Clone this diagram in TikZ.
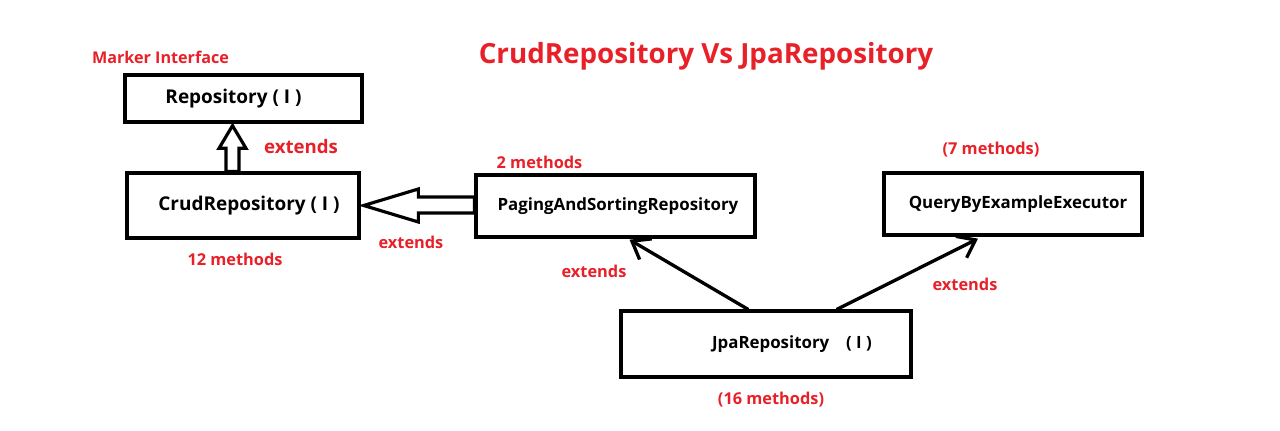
\documentclass[tikz,border=0pt]{standalone}
\usepackage{fontspec}
\setmainfont{Open Sans}
\usetikzlibrary{arrows.meta,calc}
\definecolor{note}{RGB}{232,32,40}
\tikzset{
  iface/.style={draw=black, line width=1.9pt, fill=white, align=center,
    font=\bfseries\fontsize{9.6}{11}\selectfont, inner sep=2pt},
  bigface/.style={iface, font=\bfseries\fontsize{10.8}{12}\selectfont},
  hollow/.style={draw=black, line width=1.8pt, fill=white, line join=miter},
  ext/.style={draw=black, line width=1.9pt, line cap=round,
    -{Straight Barb[length=0.32cm, width=0.48cm, line width=1.9pt]}},
  redlbl/.style={text=note, font=\bfseries\fontsize{9.3}{11}\selectfont, inner sep=0pt}
}
\begin{document}
\begin{tikzpicture}[x=0.02cm, y=-0.02cm]
  \useasboundingbox[fill=white] (0,0) rectangle (1280,431);

  % interfaces
  \node[bigface, minimum width=4.74cm, minimum height=0.94cm] (repo) at (243.5,98.5)
    {Repository ( I )\hspace*{0.4cm}};
  \node[bigface, minimum width=4.64cm, minimum height=1.30cm] (crud) at (243,205.5)
    {\hspace*{0.24cm}CrudRepository ( I )};
  \node[iface, minimum width=5.58cm, minimum height=1.24cm] (paging) at (615.5,206)
    {\hspace*{0.1cm}PagingAndSortingRepository};
  \node[iface, minimum width=5.16cm, minimum height=1.24cm] (qbe) at (1013,204)
    {\hspace*{0.2cm}QueryByExampleExecutor};
  \node[iface, minimum width=5.80cm, minimum height=1.32cm] (jpa) at (766,344)
    {\hspace*{1.04cm}JpaRepository\quad( I )};

  % block arrows
  \draw[hollow] ($(crud.north)+(-17,0)$) -- ++(0,-23) -- ++(-7,0)
    -- ($(repo.south)+(-11,2)$) -- ($(crud.north)+(3,-23)$) -- ++(-7,0)
    -- ($(crud.north)+(-4,0)$) -- cycle;
  \draw[hollow] ($(paging.west)+(0,-9)$) -- ++(-56,0) -- ++(0,-8)
    -- ($(crud.east)+(3,0)$) -- ($(paging.west)+(-56,16)$) -- ++(0,-9)
    -- ($(paging.west)+(0,7)$) -- cycle;

  % plain extends arrows
  \draw[ext] ($(jpa.north)+(-18,0)$) -- ($(paging.south)+(14,1)$);
  \draw[ext] ($(jpa.north)+(71,0)$) -- ($(qbe.south)+(-35,2)$);

  % labels
  \node[redlbl, font=\bfseries\fontsize{15.8}{18}\selectfont] (title) at (706,56)
    {CrudRepository Vs JpaRepository};
  \node[redlbl, font=\bfseries\fontsize{9.2}{11}\selectfont] (marker) at (160.5,57) {Marker Interface};
  \node[redlbl, font=\bfseries\fontsize{10.6}{12}\selectfont] (ext1) at (301,147) {extends};
  \node[redlbl] (ext2) at (411,242) {extends};
  \node[redlbl] (ext3) at (594,271) {extends};
  \node[redlbl] (ext4) at (965,284) {extends};
  \node[redlbl] (m2) at (539.5,162) {2 methods};
  \node[redlbl] (m7) at (991,150) {(7 methods)};
  \node[redlbl] (m12) at (235,259) {12 methods};
  \node[redlbl] (m16) at (771,400) {(16 methods)};
\end{tikzpicture}
\end{document}
